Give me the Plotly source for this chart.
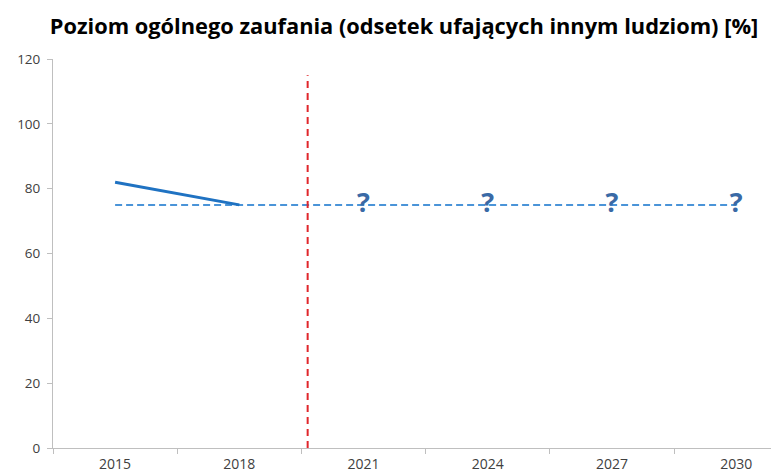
import plotly.graph_objects as go

# Survey years shown on the horizontal axis
years = ["2015", "2018", "2021", "2024", "2027", "2030"]

# Observed share of people who trust others [%]
observed_years = ["2015", "2018"]
observed_values = [82, 75]

# Flat reference level carried forward across the whole period
reference_years = ["2015", "2018", "2021", "2024", "2027", "2030"]
reference_values = [75, 75, 75, 75, 75, 75]

# Unknown future values, marked with a question mark
unknown_years = ["2021", "2024", "2027", "2030"]
unknown_values = [75, 75, 75, 75]

y_ticks = [0, 20, 40, 60, 80, 100, 120]

fig = go.Figure()

fig.add_trace(go.Scatter(
    x=reference_years, y=reference_values, mode="lines",
    line=dict(color="#4a94d8", width=2, dash="7px,4px"),
    hoverinfo="skip", showlegend=False,
))
fig.add_trace(go.Scatter(
    x=observed_years, y=observed_values, mode="lines",
    line=dict(color="#1f72c2", width=3),
    showlegend=False,
))
fig.add_trace(go.Scatter(
    x=unknown_years, y=unknown_values, mode="text",
    text=["?"] * len(unknown_years),
    textposition="middle center",
    textfont=dict(family="Open Sans", size=27, color="#3a6aa6", weight="bold"),
    showlegend=False,
))

# Boundary between past data and the forecast horizon
fig.add_shape(
    type="line", xref="x", yref="y",
    x0=1.55, x1=1.55, y0=0, y1=115,
    line=dict(color="#e0262b", width=2, dash="7px,5px"),
)

fig.update_layout(
    width=771, height=475,
    margin=dict(l=53, r=0, t=59, b=27),
    paper_bgcolor="white", plot_bgcolor="white",
    title=dict(
        text="Poziom ogólnego zaufania (odsetek ufających innym ludziom) [%]",
        x=0.524, xanchor="center", y=0.945, yanchor="middle",
        font=dict(family="Open Sans", size=21.8, color="black", weight="bold"),
    ),
    xaxis=dict(
        type="category", categoryorder="array", categoryarray=years,
        range=[-0.5, 5.28],
        showgrid=False, zeroline=False,
        showline=True, linecolor="#bfbfbf", linewidth=1,
        ticks="outside", tickson="boundaries", ticklen=5, tickcolor="#bfbfbf",
        ticklabelstandoff=3,
        tickfont=dict(family="Open Sans", size=14, color="#404040"),
    ),
    yaxis=dict(
        range=[0, 120], tickvals=y_ticks,
        showgrid=False, zeroline=False,
        showline=True, linecolor="#bfbfbf", linewidth=1,
        ticks="outside", ticklen=5, tickcolor="#bfbfbf",
        ticklabelstandoff=4,
        tickfont=dict(family="Open Sans", size=13.5, color="#404040"),
    ),
)

fig.write_html("out.html")
